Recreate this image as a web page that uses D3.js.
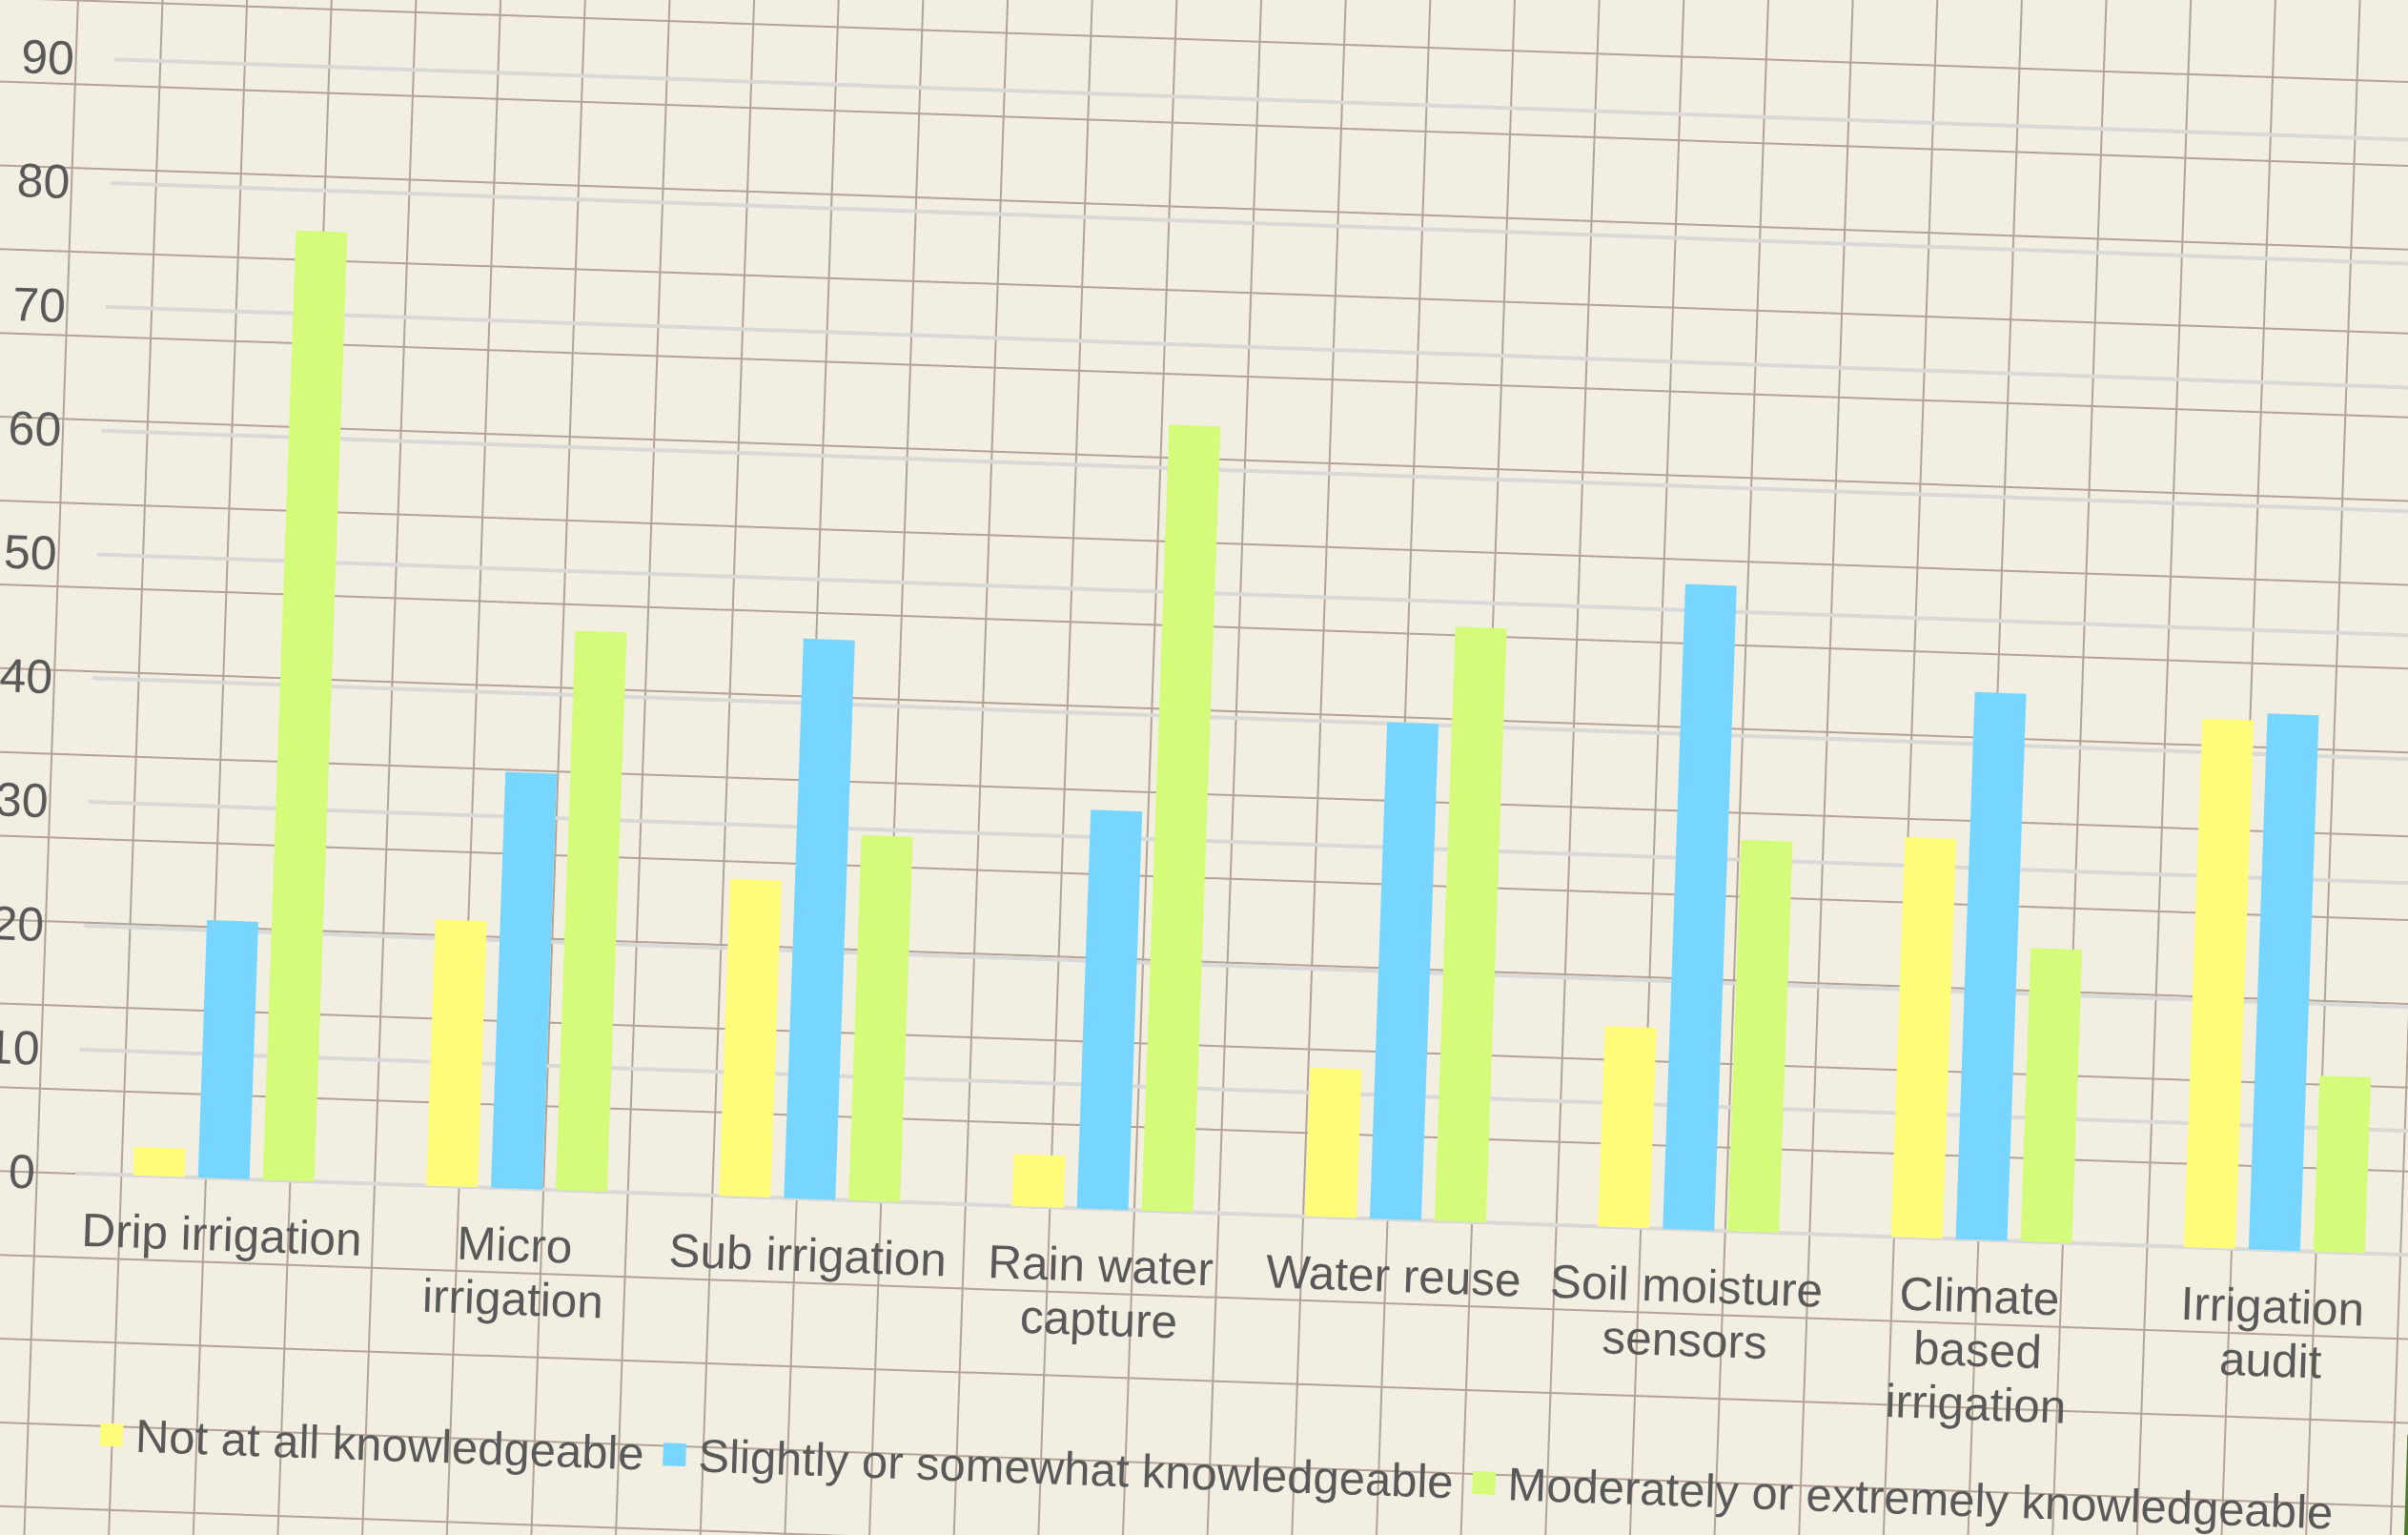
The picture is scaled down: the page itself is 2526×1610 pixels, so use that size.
<!DOCTYPE html>
<html lang="en">
  <head>
    <meta charset="utf-8" />
    <script type="text/javascript" src="https://cdn.jsdelivr.net/npm/d3@7"></script>
    <style>
      body { margin: 0; background: #f3eee2; }
      svg { display: block; }
    </style>
  </head>

  <body>
    <script type="text/javascript">
      // data (percent of respondents)
      let categories = [
        "Drip irrigation",
        "Micro irrigation",
        "Sub irrigation",
        "Rain water capture",
        "Water reuse",
        "Soil moisture sensors",
        "Climate based irrigation",
        "Irrigation audit",
      ];
      let seriesNames = [
        "Not at all knowledgeable",
        "Slightly or somewhat knowledgeable",
        "Moderately or extremely knowledgeable",
      ];
      let notAtAll = [2.3, 21.5, 25.6, 4.2, 12.0, 16.2, 32.3, 42.7];
      let slightly = [20.8, 33.6, 45.2, 32.2, 40.1, 52.1, 44.2, 43.3];
      let moderately = [76.7, 45.2, 29.5, 63.5, 48.0, 31.6, 23.7, 14.2];
      let yTicks = [0, 10, 20, 30, 40, 50, 60, 70, 80, 90];
      let colors = ["#fffc79", "#76d6ff", "#d4fb79"];

      let w = 2526;
      let h = 1610;
      let textColor = "#595959";
      let font = "'Liberation Sans', Arial, sans-serif";

      let svg = d3
        .select("body")
        .append("svg")
        .attr("width", w)
        .attr("height", h);

      svg.append("rect").attr("width", w).attr("height", h).attr("fill", "#f3eee2");

      // the whole sheet is turned a little clockwise
      let g = svg
        .append("g")
        .attr("transform", "translate(79,1230.5) rotate(2.005)");

      // graph paper behind the chart
      let paper = g.append("g").attr("stroke", "#b2a396").attr("stroke-width", 2);
      paper
        .selectAll("line.v")
        .data(d3.range(-2, 31).map((k) => -40.2 + k * 88.6))
        .join("line")
        .attr("class", "v")
        .attr("x1", (d) => d)
        .attr("x2", (d) => d)
        .attr("y1", -1450)
        .attr("y2", 500);
      paper
        .selectAll("line.h")
        .data(d3.range(-16, 6).map((k) => 0.5 + k * 87.85))
        .join("line")
        .attr("class", "h")
        .attr("x1", -250)
        .attr("x2", 2700)
        .attr("y1", (d) => d)
        .attr("y2", (d) => d);

      let y = d3.scaleLinear().domain([0, 90]).range([0, -1169]);
      let x0 = d3.scaleBand().domain(categories).range([2, 2462]).padding(0);
      let x1 = d3
        .scaleBand()
        .domain(seriesNames)
        .range([-95, 95])
        .paddingInner(14 / 68);

      // value gridlines
      g.append("g")
        .selectAll("line")
        .data(yTicks)
        .join("line")
        .attr("x1", 0)
        .attr("x2", 2560)
        .attr("y1", (d) => y(d))
        .attr("y2", (d) => y(d))
        .attr("stroke", "#d9d9d9")
        .attr("stroke-width", 4);

      // tick labels
      g.append("g")
        .selectAll("text")
        .data(yTicks)
        .join("text")
        .text((d) => d)
        .attr("x", -42)
        .attr("y", (d) => y(d))
        .attr("dy", "0.35em")
        .attr("text-anchor", "end")
        .attr("font-family", font)
        .attr("font-size", 50)
        .attr("fill", textColor);

      // bars
      let seriesValues = [notAtAll, slightly, moderately];
      seriesNames.forEach((s, si) => {
        g.append("g")
          .selectAll("rect")
          .data(categories)
          .join("rect")
          .attr("x", (c) => x0(c) + x0.bandwidth() / 2 + x1(s))
          .attr("width", x1.bandwidth())
          .attr("y", (c, i) => y(seriesValues[si][i]))
          .attr("height", (c, i) => y(0) - y(seriesValues[si][i]))
          .attr("fill", colors[si]);
      });

      // category labels, wrapped like the spreadsheet did
      let lineH = 56.5;
      function wrap(sel, maxW) {
        sel.each(function () {
          let t = d3.select(this);
          let words = t.text().split(" ");
          t.text(null);
          let line = [];
          let tspan = t.append("tspan").attr("x", 0).attr("dy", 0);
          words.forEach((word) => {
            line.push(word);
            tspan.text(line.join(" "));
            if (tspan.node().getComputedTextLength() > maxW && line.length > 1) {
              line.pop();
              tspan.text(line.join(" "));
              line = [word];
              tspan = t.append("tspan").attr("x", 0).attr("dy", lineH).text(word);
            }
          });
        });
      }

      g.append("g")
        .selectAll("text")
        .data(categories)
        .join("text")
        .attr("transform", (c) => "translate(" + (x0(c) + x0.bandwidth() / 2) + ",76)")
        .attr("text-anchor", "middle")
        .attr("font-family", font)
        .attr("font-size", 49.5)
        .attr("fill", textColor)
        .text((c) => c)
        .call(wrap, 300);

      // legend
      let legend = g.append("g").attr("transform", "translate(35.6,290)");
      let lx = 0;
      seriesNames.forEach((s, si) => {
        legend
          .append("rect")
          .attr("x", lx)
          .attr("y", -29)
          .attr("width", 24)
          .attr("height", 24)
          .attr("fill", colors[si]);
        let t = legend
          .append("text")
          .attr("x", lx + 37)
          .attr("y", 0)
          .attr("font-family", font)
          .attr("font-size", 49)
          .attr("fill", textColor)
          .text(s);
        lx += 37 + t.node().getComputedTextLength() + 20;
      });

      // sliver of something green at the photo edge
      svg
        .append("path")
        .attr("d", "M2525.3,1505 L2526,1505 L2526,1610 L2522,1610 Z")
        .attr("fill", "#4b7a2b");
    </script>
  </body>
</html>
